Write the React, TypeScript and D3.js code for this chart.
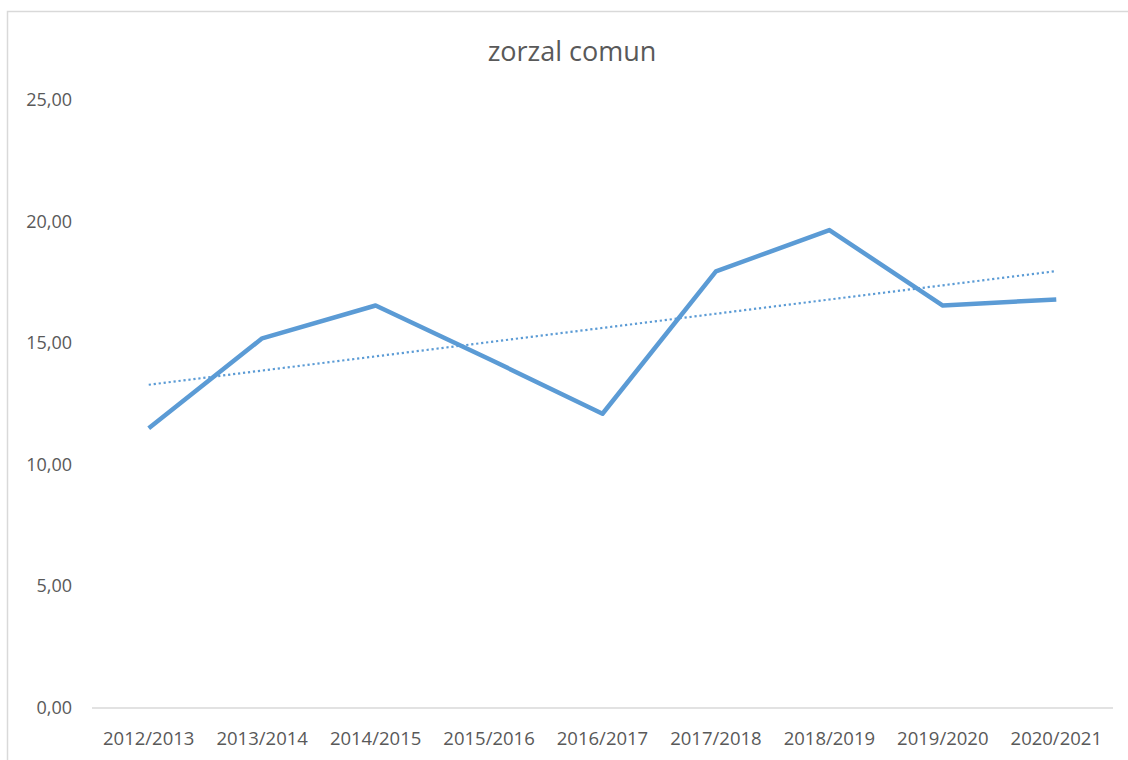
import React from "react";
import * as d3 from "d3";

const categories = ["2012/2013", "2013/2014", "2014/2015", "2015/2016", "2016/2017", "2017/2018", "2018/2019", "2019/2020", "2020/2021"];
const values = [11.5, 15.2, 16.55, 14.35, 12.1, 17.95, 19.65, 16.55, 16.8];
const yTicks = [0, 5, 10, 15, 20, 25];
const title = "zorzal comun";

const W = 1128, H = 760;
const left = 92, right = 1113, top = 100, bottom = 708;

export default function App() {
  const x = d3.scaleBand().domain(categories).range([left, right]);
  const y = d3.scaleLinear().domain([0, 25]).range([bottom, top]);
  const cx = (c: string) => (x(c) as number) + x.bandwidth() / 2;

  const line = d3.line<number>().x((_, i) => cx(categories[i])).y(v => y(v));

  // linear trendline (least squares)
  const xs = values.map((_, i) => i);
  const mx = d3.mean(xs) as number, my = d3.mean(values) as number;
  const slope = d3.sum(xs.map((xi, i) => (xi - mx) * (values[i] - my))) / d3.sum(xs.map(xi => (xi - mx) ** 2));
  const icpt = my - slope * mx;
  const trend = xs.map(xi => icpt + slope * xi);

  const fmt = (v: number) => v.toFixed(2).replace(".", ",");
  const font = "'Open Sans', 'Liberation Sans', sans-serif";

  return (
    <svg width={W} height={H} style={{ position: "absolute", left: 0, top: 0 }} fontFamily={font}>
      <rect x={0} y={0} width={W} height={H} fill="#fff" />
      <rect x={7.5} y={11.5} width={W + 10} height={H + 10} fill="none" stroke="#d9d9d9" strokeWidth={1.5} />
      <text x={572} y={61} textAnchor="middle" fontSize={27} fill="#595959">{title}</text>
      {yTicks.map(t => (
        <text key={t} x={72} y={y(t) + 6} textAnchor="end" fontSize={18} fill="#595959">{fmt(t)}</text>
      ))}
      <line x1={left} x2={right} y1={bottom} y2={bottom} stroke="#d9d9d9" strokeWidth={1.5} />
      {categories.map(c => (
        <text key={c} x={cx(c)} y={745} textAnchor="middle" fontSize={18.5} fill="#595959">{c}</text>
      ))}
      <path d={line(values) || ""} fill="none" stroke="#5b9bd5" strokeWidth={4.5} strokeLinejoin="round" />
      <path d={line(trend) || ""} fill="none" stroke="#5b9bd5" strokeWidth={2.2} strokeDasharray="2.2 2.8" />
    </svg>
  );
}
